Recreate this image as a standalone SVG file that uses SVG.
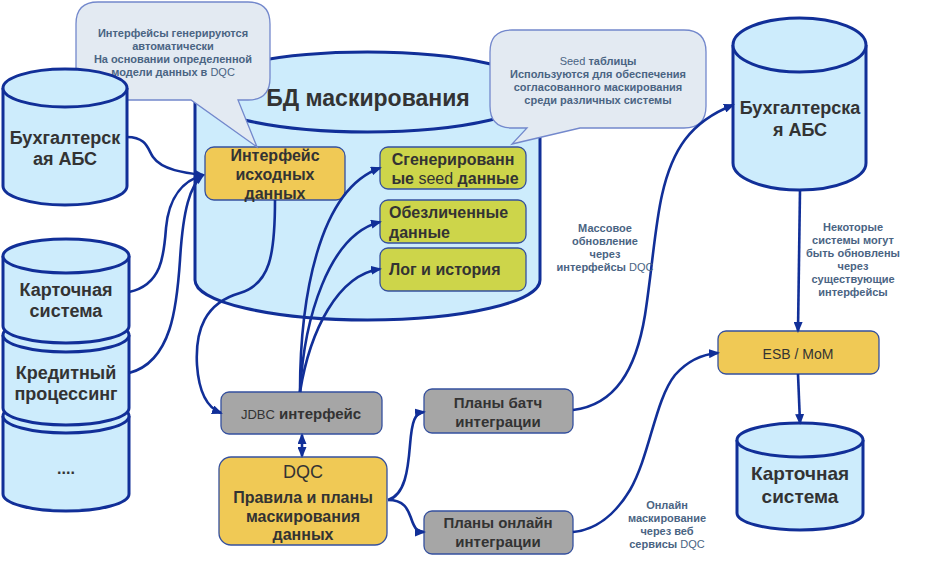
<svg xmlns="http://www.w3.org/2000/svg" width="938" height="579" viewBox="0 0 938 579">
<style>
.cyl{fill:#cdecfc;stroke:#112f98;stroke-width:3}
.box{stroke:#35509e;stroke-width:1.3}
.y{fill:#f0c955}
.g{fill:#cdd54a}
.gr{fill:#a6a6a6}
.t{font-family:"Liberation Sans",Arial,sans-serif;font-weight:bold;fill:#333333;text-anchor:middle}
.n{font-weight:normal}
.lb{font-family:"Liberation Sans",Arial,sans-serif;font-weight:bold;font-size:11px;fill:#4a6483;text-anchor:middle}
.co{fill:#e3eaf2;stroke:#7388cc;stroke-width:1.3}
.c{fill:none;stroke:#112f98;stroke-width:2.6}
</style>
<defs>
<marker id="ah" markerUnits="userSpaceOnUse" markerWidth="11" markerHeight="9" refX="9" refY="4.5" orient="auto-start-reverse" viewBox="0 0 11 9">
<path d="M0,0 L11,4.5 L0,9 Z" fill="#112f98"/>
</marker>
</defs>

<g id="db-mask">
<path class="cyl" d="M195,92 L195,280 A172.5,40 0 0 0 540,280 L540,92 A172.5,40 0 0 0 195,92 Z"/>
<path class="cyl" fill="none" d="M195,92 A172.5,40 0 0 0 540,92"/>
<text class="t" x="368" y="106" font-size="23">БД маскирования</text>
</g>

<g id="src-iface">
<rect class="box y" x="205" y="147" width="140" height="53" rx="9"/>
<text class="t" x="275" y="161" font-size="16">Интерфейс</text>
<text class="t" x="275" y="180" font-size="16">исходных</text>
<text class="t" x="275" y="199" font-size="16">данных</text>
</g>

<g id="seed">
<rect class="box g" x="380" y="147" width="146" height="42" rx="8"/>
<text class="t" x="453" y="165" font-size="16">Сгенерированн</text>
<text class="t" x="455" y="184" font-size="16">ые <tspan class="n">seed</tspan> данные</text>
</g>

<g id="anon">
<rect class="box g" x="380" y="200" width="146" height="43" rx="8"/>
<text class="t" x="389" y="218" font-size="16" text-anchor="start" style="text-anchor:start">Обезличенные</text>
<text class="t" x="389" y="238" font-size="16" style="text-anchor:start">данные</text>
</g>

<g id="log">
<rect class="box g" x="380" y="248" width="146" height="43" rx="8"/>
<text class="t" x="389" y="275" font-size="16" style="text-anchor:start">Лог и история</text>
</g>

<g id="callout1">
<path class="co" d="M98,2 H248 Q270,2 270,24 V78 Q270,100 248,100 H238 L257,147 L191,100 H98 Q76,100 76,78 V24 Q76,2 98,2 Z"/>
<text class="lb" x="173" y="37">Интерфейсы генерируются</text>
<text class="lb" x="173" y="50">автоматически</text>
<text class="lb" x="173" y="63">На основании определенной</text>
<text class="lb" x="173" y="76">модели данных в <tspan class="n">DQC</tspan></text>
</g>

<g id="callout2">
<path class="co" d="M512,30 H684 Q706,30 706,52 V106 Q706,128 684,128 H580 L512,144 L527,128 H512 Q490,128 490,106 V52 Q490,30 512,30 Z"/>
<text class="lb" x="598" y="65"><tspan class="n">Seed</tspan> таблицы</text>
<text class="lb" x="598" y="78">Используются для обеспечения</text>
<text class="lb" x="598" y="91">согласованного маскирования</text>
<text class="lb" x="598" y="104">среди различных системы</text>
</g>

<g id="abs-left">
<path class="cyl" d="M3,88 L3,186 A62,19 0 0 0 127,186 L127,88 A62,19 0 0 0 3,88 Z"/>
<path class="cyl" fill="none" d="M3,88 A62,19 0 0 0 127,88"/>
<text class="t" x="65" y="144" font-size="18">Бухгалтерск</text>
<text class="t" x="65" y="165" font-size="18">ая АБС</text>
</g>

<g id="other-left">
<path class="cyl" d="M3,416 L3,494 A63,17 0 0 0 129,494 L129,416 A63,17 0 0 0 3,416 Z"/>
<path class="cyl" fill="none" d="M3,416 A63,17 0 0 0 129,416"/>
<text class="t" x="66" y="474" font-size="16">....</text>
</g>

<g id="credit-left">
<path class="cyl" d="M3,335 L3,408 A63,17 0 0 0 129,408 L129,335 A63,17 0 0 0 3,335 Z"/>
<path class="cyl" fill="none" d="M3,335 A63,17 0 0 0 129,335"/>
<text class="t" x="66" y="379" font-size="18">Кредитный</text>
<text class="t" x="66" y="400" font-size="18">процессинг</text>
</g>

<g id="card-left">
<path class="cyl" d="M3,256 L3,326 A63,17 0 0 0 129,326 L129,256 A63,17 0 0 0 3,256 Z"/>
<path class="cyl" fill="none" d="M3,256 A63,17 0 0 0 129,256"/>
<text class="t" x="66" y="296" font-size="18">Карточная</text>
<text class="t" x="66" y="317" font-size="18">система</text>
</g>

<g id="jdbc">
<rect class="box gr" x="221" y="392" width="161" height="42" rx="8"/>
<text class="t" x="301" y="419" font-size="15"><tspan class="n" font-size="13">JDBC</tspan> интерфейс</text>
</g>

<g id="dqc">
<rect class="box y" x="219" y="457" width="168" height="88" rx="12"/>
<text class="t n" x="303" y="478" font-size="18" font-weight="normal">DQC</text>
<text class="t" x="303" y="503" font-size="16">Правила и планы</text>
<text class="t" x="303" y="522" font-size="16">маскирования</text>
<text class="t" x="303" y="540" font-size="16">данных</text>
</g>

<g id="batch">
<rect class="box gr" x="424" y="389" width="149" height="44" rx="8"/>
<text class="t" x="498" y="408" font-size="15">Планы батч</text>
<text class="t" x="498" y="427" font-size="15">интеграции</text>
</g>

<g id="online">
<rect class="box gr" x="424" y="511" width="149" height="43" rx="8"/>
<text class="t" x="498" y="528" font-size="15">Планы онлайн</text>
<text class="t" x="498" y="547" font-size="15">интеграции</text>
</g>

<g id="abs-right">
<path class="cyl" d="M733,45 L733,163 A66.5,27 0 0 0 866,163 L866,45 A66.5,27 0 0 0 733,45 Z"/>
<path class="cyl" fill="none" d="M733,45 A66.5,27 0 0 0 866,45"/>
<text class="t" x="800" y="114" font-size="18">Бухгалтерска</text>
<text class="t" x="800" y="136" font-size="18">я АБС</text>
</g>

<g id="esb">
<rect class="box y" x="718" y="331" width="161" height="43" rx="8"/>
<text class="t n" x="798" y="359" font-size="14" font-weight="normal">ESB / MoM</text>
</g>

<g id="card-right">
<path class="cyl" d="M737,440 L737,513 A63,17 0 0 0 863,513 L863,440 A63,17 0 0 0 737,440 Z"/>
<path class="cyl" fill="none" d="M737,440 A63,17 0 0 0 863,440"/>
<text class="t" x="800" y="480" font-size="19">Карточная</text>
<text class="t" x="800" y="503" font-size="19">система</text>
</g>

<g id="connectors">
<path class="c" marker-end="url(#ah)" d="M127,137 C147,137 148,150 153,157 C162,170 185,173 203,175"/>
<path class="c" marker-end="url(#ah)" d="M129,292 C162,285 164,255 166,228 C169,195 185,180 203,175"/>
<path class="c" marker-end="url(#ah)" d="M129,373 C172,362 177,305 180,260 C183,210 190,185 203,175"/>
<path class="c" marker-end="url(#ah)" d="M275,200 C275,255 270,284 240,293 C205,303 195,330 197,365 C199,395 208,408 221,413"/>
<path class="c" marker-end="url(#ah)" d="M300,392 C300,300 318,190 380,168"/>
<path class="c" marker-end="url(#ah)" d="M300,392 C304,320 328,235 380,222"/>
<path class="c" marker-end="url(#ah)" d="M300,392 C310,330 338,275 380,269"/>
<path class="c" marker-start="url(#ah)" marker-end="url(#ah)" d="M302,435 L302,456"/>
<path class="c" marker-end="url(#ah)" d="M388,500 C405,495 408,470 410,445 C412,420 415,413 424,412"/>
<path class="c" marker-end="url(#ah)" d="M388,500 C405,500 408,510 411,518 C415,530 418,532 424,532"/>
<path class="c" marker-end="url(#ah)" d="M573,410 C615,405 636,370 645,315 C652,270 655,225 662,195 C672,150 690,122 733,105"/>
<path class="c" marker-end="url(#ah)" d="M573,532 C595,530 615,515 630,490 C650,455 655,400 675,375 C690,358 705,354 718,353"/>
<path class="c" marker-end="url(#ah)" d="M800,190 L798,331"/>
<path class="c" marker-end="url(#ah)" d="M798,374 L800,423"/>
</g>

<g id="labels">
<text class="lb" x="605" y="232">Массовое</text>
<text class="lb" x="605" y="245">обновление</text>
<text class="lb" x="605" y="258">через</text>
<text class="lb" x="605" y="271">интерфейсы <tspan class="n">DQC</tspan></text>
<text class="lb" x="853" y="231">Некоторые</text>
<text class="lb" x="853" y="244">системы могут</text>
<text class="lb" x="853" y="257">быть обновлены</text>
<text class="lb" x="853" y="270">через</text>
<text class="lb" x="853" y="283">существующие</text>
<text class="lb" x="853" y="296">интерфейсы</text>
<text class="lb" x="667" y="509">Онлайн</text>
<text class="lb" x="667" y="522">маскирование</text>
<text class="lb" x="667" y="535">через веб</text>
<text class="lb" x="667" y="548">сервисы <tspan class="n">DQC</tspan></text>
</g>
</svg>
